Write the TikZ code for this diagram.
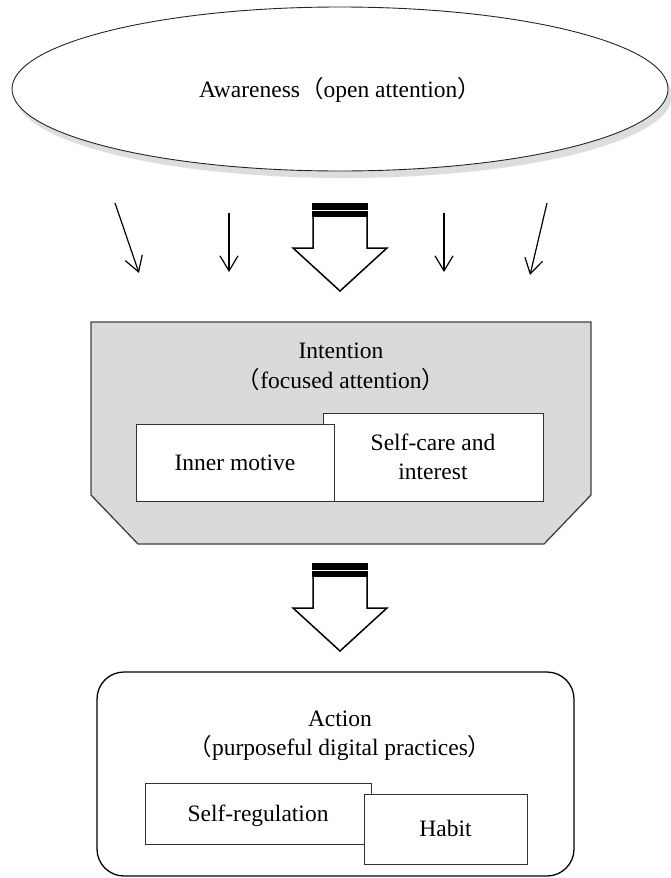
\documentclass[tikz,border=0pt]{standalone}
\usepackage{fontspec}
\setmainfont{Liberation Serif}
\newfontfamily\cjkp{Noto Sans CJK JP}
\usetikzlibrary{shapes.geometric,shadows,arrows.meta}
\newcommand\myLP{{\cjkp （}}
\newcommand\myRP{{\cjkp ）}}
\definecolor{boxgray}{RGB}{217,218,220}
\definecolor{shadowgray}{RGB}{220,221,222}
\begin{document}
\begin{tikzpicture}[x=1pt,y=-1pt,
  font=\fontsize{23.5}{30}\selectfont,
  lbl/.style={anchor=base, inner sep=0pt},
  thinarrow/.style={line width=1.2pt, -{Straight Barb[length=15pt,width=18pt]}},
  innerbox/.style={draw=black!80, line width=0.8pt, fill=white, inner sep=0pt, align=center},
  onelinebox/.style={innerbox, text height=15.5pt, text depth=0pt},
  blockarr/.pic={
    \draw[line width=1.5pt, fill=white, line join=miter]
      (-27,14) -- (-27,45) -- (-47,45) -- (0,88) -- (47,45) -- (27,45) -- (27,14);
    \fill[black] (-27.8,0) rectangle (27.8,14);
    \draw[white, line width=1.6pt] (-27.8,7.5) -- (27.8,7.5);
  }]
\useasboundingbox (0,0) rectangle (670,878);

% Awareness ellipse
\node[ellipse, draw=black!85, line width=0.9pt, fill=white, inner sep=0pt,
  minimum width=656pt, minimum height=164pt,
  drop shadow={shadow xshift=4pt, shadow yshift=-7pt, fill=shadowgray, opacity=1}]
  (aware) at (340,89) {};
\node[lbl] (awaretext) at (340,97) {Awareness\myLP open attention\myRP};

% small arrows
\coordinate (a1s) at (115,203); \coordinate (a1e) at (139,273);
\coordinate (a2s) at (229,213); \coordinate (a2e) at (229,272);
\coordinate (a4s) at (444,213); \coordinate (a4e) at (444,272);
\coordinate (a5s) at (547,203); \coordinate (a5e) at (530,275);
\draw[thinarrow] (a1s) -- (a1e);
\draw[thinarrow] (a2s) -- (a2e);
\draw[thinarrow] (a4s) -- (a4e);
\draw[thinarrow] (a5s) -- (a5e);

% block arrows
\path (340,203) pic (barrow1) {blockarr};
\path (340,563) pic (barrow2) {blockarr};

% Intention box
\draw[draw=black!75, line width=1.3pt, fill=boxgray, line join=miter]
  (91,322) -- (591,322) -- (591,495) -- (544,544) -- (138,544) -- (91,495) -- cycle;
\node[lbl] (intT) at (341,358) {Intention};
\node[lbl] (intS) at (341,388) {\myLP focused attention\myRP};
\node[innerbox, minimum width=220pt, minimum height=88pt] (selfcare) at (433,457)
  {Self-care and\\[-1.5pt]interest};
\node[onelinebox, minimum width=198pt, minimum height=77pt] (inner) at (235,462.5)
  {Inner motive};

% Action box
\node[draw=black, line width=1.3pt, rounded corners=27pt, inner sep=0pt,
  minimum width=477pt, minimum height=204pt] (action) at (335.5,774) {};
\node[lbl] (actT) at (340,726) {Action};
\node[lbl] (actS) at (340,755) {\myLP purposeful digital practices\myRP};
\node[onelinebox, minimum width=226pt, minimum height=61pt] (selfreg) at (258,813.5)
  {Self-regulation};
\node[onelinebox, minimum width=163pt, minimum height=70pt] (habit) at (445.5,829)
  {Habit};
\end{tikzpicture}
\end{document}
